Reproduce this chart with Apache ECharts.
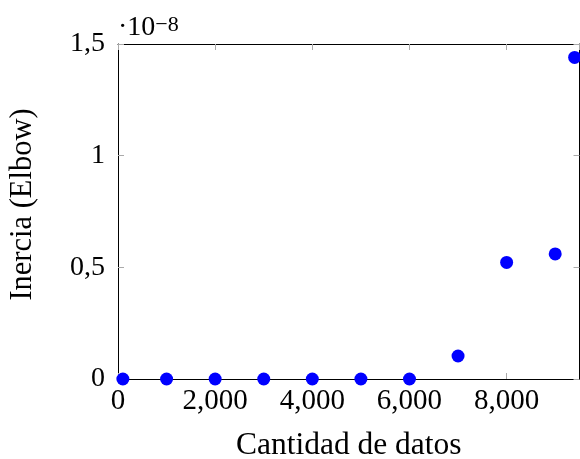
<!DOCTYPE html>
<html>
<head>
<meta charset="utf-8">
<script src="https://cdn.jsdelivr.net/npm/echarts@6/dist/echarts.min.js"></script>
<style>
  html, body { margin: 0; padding: 0; background: #fff; }
  #chart { width: 580px; height: 459px; }
</style>
</head>
<body>
<div id="chart"></div>
<script>
// Dataset size vs. inertia of the elbow method
const cantidad = [100, 1000, 2000, 3000, 4000, 5000, 6000, 7000, 8000, 9000, 9400];
const inercia = [0, 0, 0, 0, 0, 0, 0, 0.103e-8, 0.522e-8, 0.56e-8, 1.44e-8];
const xTicks = [0, 2000, 4000, 6000, 8000];
const yTicks = [0, 0.5e-8, 1e-8, 1.5e-8];
const scale = 1e-8;

const FONT = 'Liberation Serif';
const fmtX = v => String(Math.round(v)).replace(/\B(?=(\d{3})+(?!\d))/g, ',');
const fmtY = v => {
  const r = Math.round(v / scale * 100) / 100;
  return String(r).replace('.', ',');
};

const chart = echarts.init(document.getElementById('chart'), null, { renderer: 'canvas' });

const tickStyle = { show: true, inside: true, length: 6, lineStyle: { color: '#aaaaaa', width: 1 } };
const lineStyle = { show: true, onZero: false, lineStyle: { color: '#000', width: 1 } };

chart.setOption({
  animation: false,
  backgroundColor: '#fff',
  grid: { left: 118, right: 0.5, top: 44, bottom: 80, containLabel: false, outerBoundsMode: 'none' },
  title: {
    text: '·10{s|−8}',
    left: 113, top: 9,
    textStyle: {
      fontFamily: FONT, fontSize: 28, fontWeight: 'normal', color: '#000',
      rich: { s: { fontFamily: FONT, fontSize: 22, verticalAlign: 'top', lineHeight: 20, padding: [0, 0, 14, 0] } }
    }
  },
  xAxis: [{
    type: 'value', min: 0, max: 9500, interval: 2000,
    name: 'Cantidad de datos', nameLocation: 'middle', nameGap: 51,
    nameTextStyle: { fontFamily: FONT, fontSize: 31.5, color: '#000' },
    axisLine: lineStyle, axisTick: tickStyle, splitLine: { show: false },
    axisLabel: {
      fontFamily: FONT, fontSize: 29, color: '#000', margin: 8,
      showMaxLabel: false,
      formatter: v => xTicks.includes(v) ? fmtX(v) : ''
    }
  }, {
    type: 'value', min: 0, max: 9500, interval: 2000, position: 'top',
    axisLine: lineStyle, axisTick: tickStyle, axisLabel: { show: false }, splitLine: { show: false }
  }],
  yAxis: [{
    type: 'value', min: 0, max: 1.5e-8, interval: 0.5e-8,
    name: 'Inercia (Elbow)', nameLocation: 'middle', nameGap: 80, nameRotate: 90,
    nameTextStyle: { fontFamily: FONT, fontSize: 30.5, color: '#000', padding: [0, 0, 0, 14] },
    axisLine: lineStyle, axisTick: tickStyle, splitLine: { show: false },
    axisLabel: { fontFamily: FONT, fontSize: 28, color: '#000', margin: 13, formatter: fmtY }
  }, {
    type: 'value', min: 0, max: 1.5e-8, interval: 0.5e-8, position: 'right',
    axisLine: lineStyle, axisTick: tickStyle, axisLabel: { show: false }, splitLine: { show: false }
  }],
  series: [{
    type: 'scatter',
    data: cantidad.map((c, i) => [c, inercia[i]]),
    symbol: 'circle', symbolSize: 13,
    itemStyle: { color: '#0000ff', opacity: 1 },
    clip: false
  }]
});
</script>
</body>
</html>
